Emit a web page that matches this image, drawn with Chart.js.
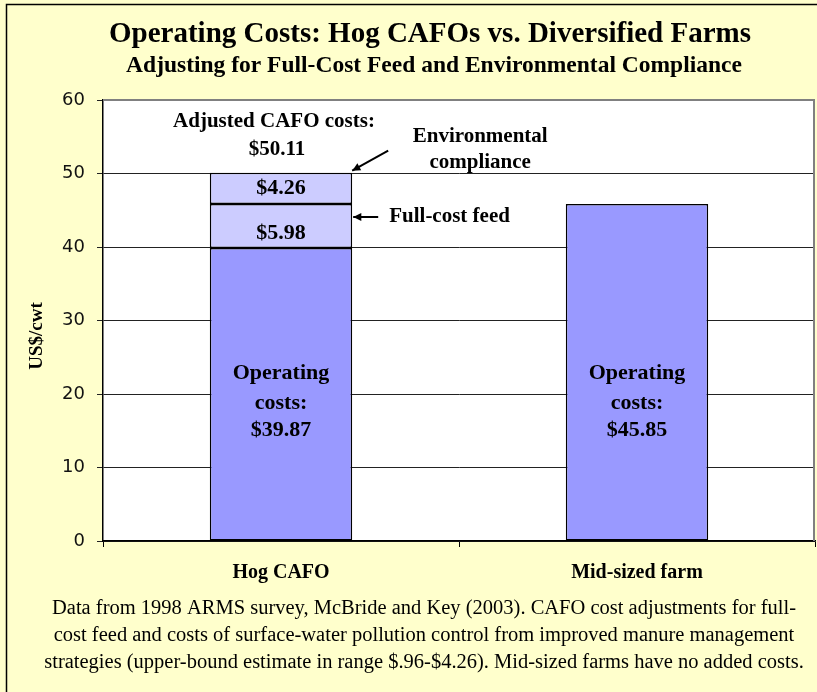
<!DOCTYPE html>
<html>
<head>
<meta charset="utf-8">
<script src="https://cdn.jsdelivr.net/npm/chart.js@4/dist/chart.umd.min.js"></script>
<style>
  html, body { margin: 0; padding: 0; background: #ffffcc; }
  #wrap { width: 817px; height: 692px; position: relative; }
</style>
</head>
<body>
<div id="wrap"><canvas id="costChart" width="817" height="692"></canvas></div>
<script>
const categories = ['Hog CAFO', 'Mid-sized farm'];
const operatingCosts = [39.87, 45.85];
const fullCostFeed = [5.98, null];
const envCompliance = [4.26, null];
const adjustedTotal = 50.11;
const yMin = 0, yMax = 60, yStep = 10;

const titleText = 'Operating Costs: Hog CAFOs vs. Diversified Farms';
const subtitleText = 'Adjusting for Full-Cost Feed and Environmental Compliance';
const yAxisTitle = 'US$/cwt';
const footnote = [
    'Data from 1998 ARMS survey, McBride and Key (2003). CAFO cost adjustments for full-',
    'cost feed and costs of surface-water pollution control from improved manure management',
    'strategies (upper-bound estimate in range $.96-$4.26). Mid-sized farms have no added costs.'
];

const serif = '"Liberation Serif", "Times New Roman", serif';

function arrow(ctx, x1, y1, x2, y2) {
    ctx.beginPath();
    ctx.moveTo(x1, y1);
    ctx.lineTo(x2, y2);
    ctx.stroke();
    const a = Math.atan2(y2 - y1, x2 - x1);
    const len = 9, w = 0.45;
    ctx.beginPath();
    ctx.moveTo(x2, y2);
    ctx.lineTo(x2 - len * Math.cos(a - w), y2 - len * Math.sin(a - w));
    ctx.lineTo(x2 - len * Math.cos(a + w), y2 - len * Math.sin(a + w));
    ctx.closePath();
    ctx.fill();
}

const framePlugin = {
    id: 'frame',
    beforeDraw(chart) {
        const { ctx, chartArea: a } = chart;
        ctx.save();
        ctx.fillStyle = '#ffffcc';
        ctx.fillRect(0, 0, chart.width, chart.height);
        ctx.strokeStyle = '#000';
        ctx.lineWidth = 1.5;
        ctx.strokeRect(6.5, 4.5, chart.width + 10, chart.height + 10);
        ctx.fillStyle = '#ffffff';
        ctx.fillRect(a.left, a.top, a.right - a.left, a.bottom - a.top);

        ctx.fillStyle = '#000';
        ctx.textAlign = 'center';
        ctx.textBaseline = 'middle';
        ctx.font = 'bold 29px ' + serif;
        ctx.fillText(titleText, 430, 35);
        ctx.font = 'bold 23.5px ' + serif;
        ctx.fillText(subtitleText, 434, 66);

        ctx.font = '20.5px ' + serif;
        footnote.forEach((line, i) => ctx.fillText(line, 424, 609 + i * 27));

        ctx.save();
        ctx.translate(37, 336);
        ctx.rotate(-Math.PI / 2);
        ctx.font = 'bold 19px ' + serif;
        ctx.fillText(yAxisTitle, 0, 0);
        ctx.restore();
        ctx.restore();
    },
    afterDatasetsDraw(chart) {
        const { ctx, chartArea: a } = chart;
        const y = chart.scales.y;
        ctx.save();
        ctx.strokeStyle = '#808080';
        ctx.lineWidth = 2;
        ctx.beginPath();
        ctx.moveTo(a.left, a.top);
        ctx.lineTo(a.right - 1, a.top);
        ctx.lineTo(a.right - 1, a.bottom);
        ctx.stroke();

        ctx.fillStyle = '#000';
        ctx.strokeStyle = '#000';
        ctx.textAlign = 'center';
        ctx.textBaseline = 'middle';
        ctx.font = 'bold 22px ' + serif;

        const base = chart.getDatasetMeta(0).data;
        base.forEach((bar, i) => {
            const yc = y.getPixelForValue(18.8);
            ctx.fillText('Operating', bar.x, yc - 30);
            ctx.fillText('costs:', bar.x, yc);
            ctx.fillText('$' + operatingCosts[i].toFixed(2), bar.x, yc + 27);
        });

        const feedBar = chart.getDatasetMeta(1).data[0];
        const envBar = chart.getDatasetMeta(2).data[0];
        ctx.fillText('$' + fullCostFeed[0].toFixed(2), feedBar.x, (feedBar.y + feedBar.base) / 2 + 7);
        ctx.fillText('$' + envCompliance[0].toFixed(2), envBar.x, (envBar.y + envBar.base) / 2);

        const topY = y.getPixelForValue(adjustedTotal);
        ctx.font = 'bold 21px ' + serif;
        ctx.fillText('Adjusted CAFO costs:', envBar.x - 7, topY - 51);
        ctx.fillText('$' + adjustedTotal.toFixed(2), envBar.x - 4, topY - 23);

        const right = envBar.x + envBar.width / 2;
        ctx.fillText('Environmental', right + 128, topY - 36);
        ctx.fillText('compliance', right + 128, topY - 10);
        ctx.lineWidth = 2;
        arrow(ctx, right + 36, topY - 22, right, topY - 2);

        const feedY = feedBar.y + 13;
        ctx.textAlign = 'left';
        ctx.fillText('Full-cost feed', right + 37, feedY);
        arrow(ctx, right + 26, feedY, right + 1, feedY);
        ctx.restore();
    }
};

const barBorder = { borderColor: '#000', borderWidth: 1.5, borderSkipped: false };

new Chart(document.getElementById('costChart'), {
    type: 'bar',
    data: {
        labels: categories,
        datasets: [
            { label: 'Operating costs', data: operatingCosts, backgroundColor: '#9999ff', ...barBorder },
            { label: 'Full-cost feed', data: fullCostFeed, backgroundColor: '#ccccff', ...barBorder },
            { label: 'Environmental compliance', data: envCompliance, backgroundColor: '#ccccff', ...barBorder }
        ]
    },
    options: {
        responsive: false,
        animation: false,
        devicePixelRatio: 1,
        layout: { padding: { top: 100, right: 2, left: 0, bottom: 0 } },
        datasets: { bar: { categoryPercentage: 1, barPercentage: 0.4 } },
        plugins: {
            legend: { display: false },
            tooltip: { enabled: false },
            title: { display: false }
        },
        scales: {
            x: {
                stacked: true,
                afterFit: (s) => { s.height = 151; },
                grid: { drawOnChartArea: false, tickLength: 6, color: '#000', offset: true },
                border: { color: '#000', width: 1.5 },
                ticks: { color: '#000', padding: 14, font: { family: serif, size: 20, weight: 'bold' } }
            },
            y: {
                stacked: true,
                min: yMin,
                max: yMax,
                afterFit: (s) => { s.width = 103; },
                grid: { color: '#222', lineWidth: 1, tickLength: 6 },
                border: { color: '#000', width: 1.5 },
                ticks: {
                    stepSize: yStep,
                    color: '#111',
                    padding: 12,
                    font: { family: '"DejaVu Sans", Verdana, sans-serif', size: 18 }
                }
            }
        }
    },
    plugins: [framePlugin]
});
</script>
</body>
</html>
